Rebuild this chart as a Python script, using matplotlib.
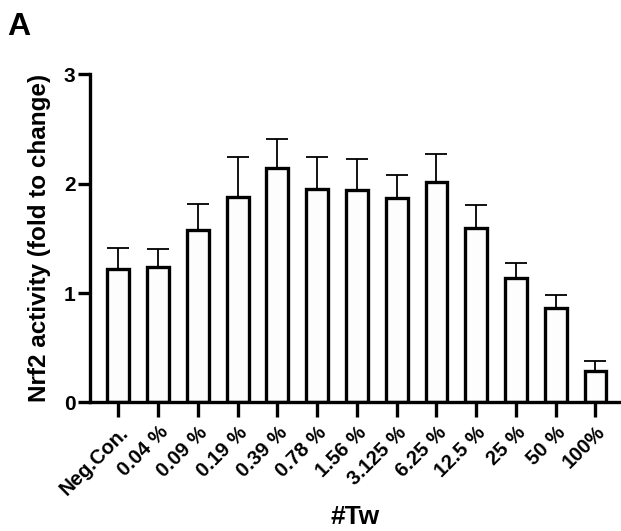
import matplotlib
matplotlib.use("Agg")
import matplotlib.pyplot as plt
import numpy as np

plt.rcParams['font.family'] = ['Liberation Sans', 'DejaVu Sans']
plt.rcParams['font.weight'] = 'bold'

categories = ["Neg.Con.", "0.04 %", "0.09 %", "0.19 %", "0.39 %", "0.78 %",
              "1.56 %", "3.125 %", "6.25 %", "12.5 %", "25 %", "50 %", "100%"]
means = [1.22, 1.24, 1.58, 1.88, 2.14, 1.95, 1.94, 1.87, 2.01, 1.59, 1.14, 0.86, 0.29]
upper = [1.41, 1.40, 1.81, 2.24, 2.41, 2.24, 2.22, 2.08, 2.27, 1.80, 1.27, 0.98, 0.38]
sem = [u - m for u, m in zip(upper, means)]

fig = plt.figure(figsize=(6.21, 5.31), dpi=100)
ax = fig.add_axes([0.1449, 0.242, 0.855, 0.6186])

x = np.arange(len(categories))
ax.errorbar(x, means, yerr=[np.zeros(len(sem)), sem], fmt='none',
            ecolor='black', elinewidth=1.3, capsize=8, capthick=1.3, zorder=1)
ax.bar(x, means, width=0.55, color='#fdfdfd', edgecolor='black',
       linewidth=2.4, zorder=2)

ax.set_xlim(-0.713, 12.64)
ax.set_ylim(0, 3)
ax.set_yticks([0, 1, 2, 3])
ax.set_xticks(x)
ax.set_xticklabels(categories, rotation=45, ha='right', va='top',
                   rotation_mode='anchor', fontsize=14.5, fontweight='bold')
ax.tick_params(axis='y', labelsize=15, width=2.4, length=8.5, pad=2)
ax.tick_params(axis='x', width=2.4, length=10.5, pad=4)
for lbl in ax.get_yticklabels():
    lbl.set_fontweight('bold')

for side in ('top', 'right'):
    ax.spines[side].set_visible(False)
for side in ('left', 'bottom'):
    ax.spines[side].set_linewidth(2.4)

ax.set_ylabel("Nrf2 activity (fold to change)", fontsize=17.5, fontweight='bold', labelpad=9)
ax.set_xlabel("#Tw", fontsize=19, fontweight='bold', va='center')
ax.xaxis.set_label_coords(0.5, -0.35)

fig.text(0.012, 0.978, "A", fontsize=23, fontweight='bold', va='top', ha='left')

fig.savefig("out.png", dpi=100)
